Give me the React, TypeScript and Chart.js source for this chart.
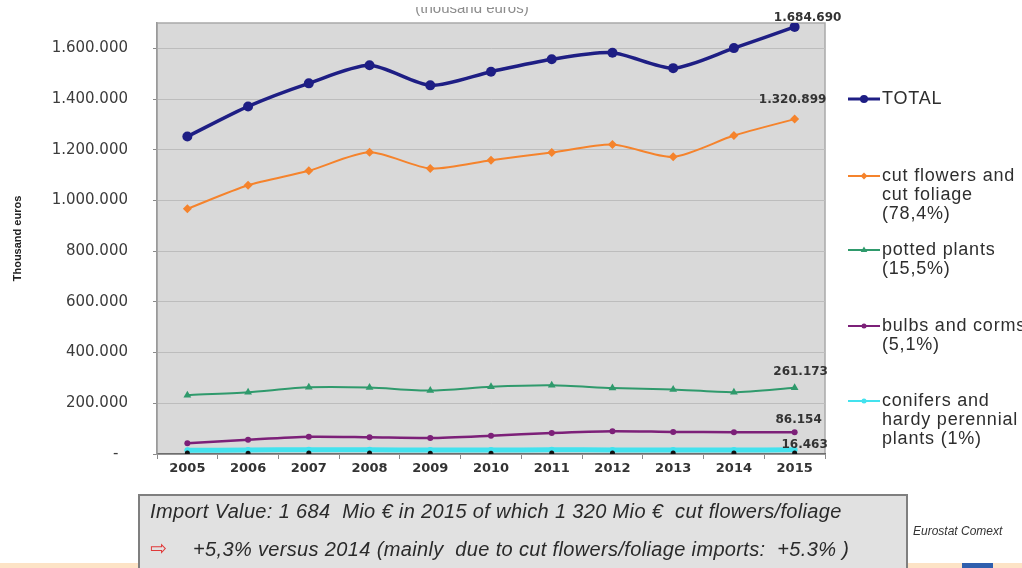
import React, { useEffect, useRef } from "react";
import { Chart, registerables } from "chart.js";

Chart.register(...registerables);

// Import values of live plants and floriculture products, thousand euros
const years = ["2005", "2006", "2007", "2008", "2009", "2010", "2011", "2012", "2013", "2014", "2015"];
const totalImports = [1252000, 1371000, 1462000, 1533000, 1454000, 1508000, 1557000, 1583000, 1522000, 1601000, 1684690];
const cutFlowers = [967000, 1060000, 1117000, 1190000, 1126000, 1159000, 1189000, 1221000, 1172000, 1256000, 1320899];
const pottedPlants = [232000, 244000, 263000, 262000, 250000, 265000, 271000, 260000, 254000, 244000, 261173];
const bulbsCorms = [42000, 56000, 68000, 66000, 63000, 72000, 83000, 90000, 87000, 86000, 86154];
const otherProducts = [3500, 3200, 3800, 3600, 3400, 3300, 3500, 3700, 3600, 3900, 4100];
const conifers = [15000, 15500, 17000, 16500, 15800, 16000, 16300, 16200, 16000, 16100, 16463];

const yMax = 1700000;
const yTickValues = [0, 200000, 400000, 600000, 800000, 1000000, 1200000, 1400000, 1600000];

const legendTotal = ["TOTAL"];
const legendCut = ["cut flowers and", "cut foliage", "(78,4%)"];
const legendPotted = ["potted plants", "(15,5%)"];
const legendBulbs = ["bulbs and corms", "(5,1%)"];
const legendConifers = ["conifers and", "hardy perennial", "plants (1%)"];

const noteLine1 = "Import Value: 1 684  Mio € in 2015 of which 1 320 Mio €  cut flowers/foliage";
const noteLine2 = "+5,3% versus 2014 (mainly  due to cut flowers/foliage imports:  +5.3% )";
const sourceText = "Eurostat Comext";
const unitText = "(thousand euros)";

const NAVY = "#1e1e84";
const ORANGE = "#f5832c";
const GREEN = "#2f9a6c";
const PURPLE = "#7c2078";
const CYAN = "#43e2ee";
const BLACK = "#111111";

const fmt = (n: number) => String(Math.round(n)).replace(/\B(?=(\d{3})+(?!\d))/g, ".");

function drawMarker(ctx: CanvasRenderingContext2D, style: string, x: number, y: number, r: number, color: string) {
  ctx.save();
  ctx.fillStyle = color;
  ctx.beginPath();
  if (style === "circle") {
    ctx.arc(x, y, r, 0, Math.PI * 2);
  } else if (style === "rectRot") {
    ctx.moveTo(x, y - r);
    ctx.lineTo(x + r, y);
    ctx.lineTo(x, y + r);
    ctx.lineTo(x - r, y);
    ctx.closePath();
  } else if (style === "triangle") {
    ctx.moveTo(x, y - r);
    ctx.lineTo(x + r * 0.95, y + r * 0.6);
    ctx.lineTo(x - r * 0.95, y + r * 0.6);
    ctx.closePath();
  }
  ctx.fill();
  ctx.restore();
}

const decorPlugin = {
  id: "decor",
  beforeDraw(chart: any) {
    const { ctx, chartArea: a } = chart;
    ctx.save();
    ctx.fillStyle = "#d9d9d9";
    ctx.fillRect(a.left, a.top, a.right - a.left, a.bottom - a.top);
    ctx.strokeStyle = "#a9a9a9";
    ctx.lineWidth = 1.5;
    ctx.strokeRect(a.left, a.top, a.right - a.left, a.bottom - a.top);
    ctx.restore();
  },
  afterDatasetsDraw(chart: any) {
    const { ctx } = chart;
    const last = years.length - 1;
    // value labels for the final year: [dataset index, dx, dy]
    const labelled: [number, number, number][] = [
      [0, 13, -9],
      [1, -2, -19],
      [2, 6, -16],
      [3, 4, -12.5],
      [5, 10, -5],
    ];
    ctx.save();
    ctx.font = "bold 12px 'DejaVu Sans'";
    ctx.fillStyle = "#333333";
    ctx.textAlign = "center";
    ctx.textBaseline = "middle";
    labelled.forEach(([di, dx, dy]) => {
      const pt = chart.getDatasetMeta(di).data[last];
      const v = chart.data.datasets[di].data[last] as number;
      ctx.fillText(fmt(v), pt.x + dx, pt.y + dy);
    });
    ctx.restore();
  },
  afterDraw(chart: any) {
    const { ctx } = chart;
    ctx.save();

    // unit caption, partly cut off at the top edge
    ctx.save();
    ctx.beginPath();
    ctx.rect(380, 7, 200, 12);
    ctx.clip();
    ctx.font = "15px 'Liberation Sans'";
    ctx.fillStyle = "#8c8c8c";
    ctx.textAlign = "center";
    ctx.textBaseline = "alphabetic";
    ctx.fillText(unitText, 472, 13);
    ctx.restore();

    // legend
    const rows = [
      { y: 99, lines: legendTotal, color: NAVY, style: "circle", r: 4, w: 3 },
      { y: 176, lines: legendCut, color: ORANGE, style: "rectRot", r: 3.5, w: 2 },
      { y: 250, lines: legendPotted, color: GREEN, style: "triangle", r: 3.5, w: 2 },
      { y: 326, lines: legendBulbs, color: PURPLE, style: "circle", r: 2.5, w: 2 },
      { y: 401, lines: legendConifers, color: CYAN, style: "circle", r: 2.5, w: 2 },
    ];
    rows.forEach((row) => {
      ctx.strokeStyle = row.color;
      ctx.lineWidth = row.w;
      ctx.beginPath();
      ctx.moveTo(848, row.y);
      ctx.lineTo(880, row.y);
      ctx.stroke();
      drawMarker(ctx, row.style, 864, row.y, row.r, row.color);
      ctx.save();
      ctx.font = "18px 'Liberation Sans'";
      (ctx as any).letterSpacing = "0.8px";
      ctx.fillStyle = "#2e2e2e";
      ctx.textAlign = "left";
      ctx.textBaseline = "middle";
      row.lines.forEach((t, i) => ctx.fillText(t, 882, row.y + i * 19));
      ctx.restore();
    });

    // bottom strip
    ctx.fillStyle = "#fde3c6";
    ctx.fillRect(0, 563, 1022, 5);
    ctx.fillStyle = "#2f5fae";
    ctx.fillRect(962, 563, 31, 5);

    // note box
    ctx.fillStyle = "#e1e1e1";
    ctx.fillRect(139, 495, 768, 80);
    ctx.strokeStyle = "#7f7f7f";
    ctx.lineWidth = 2;
    ctx.strokeRect(139, 495, 768, 80);

    ctx.save();
    ctx.font = "italic 20px 'Liberation Sans'";
    (ctx as any).letterSpacing = "0.35px";
    ctx.fillStyle = "#2a2a2a";
    ctx.textAlign = "left";
    ctx.textBaseline = "middle";
    ctx.fillText(noteLine1, 150, 512);
    ctx.fillText(noteLine2, 193, 550);
    ctx.restore();

    ctx.font = "20px 'DejaVu Sans'";
    ctx.fillStyle = "#e03a3a";
    ctx.textAlign = "left";
    ctx.textBaseline = "middle";
    ctx.fillText("⇨", 150, 550);

    ctx.font = "italic 12px 'Liberation Sans'";
    ctx.fillStyle = "#333333";
    ctx.fillText(sourceText, 913, 532);

    ctx.restore();
  },
};

export default function App() {
  const canvasRef = useRef<HTMLCanvasElement | null>(null);

  useEffect(() => {
    if (!canvasRef.current) return;
    const mk = (label: string, data: number[], color: string, width: number, style: string, radius: number, extra: any = {}) => ({
      label,
      data,
      borderColor: color,
      backgroundColor: color,
      borderWidth: width,
      pointStyle: style,
      pointRadius: radius,
      pointBorderWidth: 0,
      pointBackgroundColor: color,
      tension: 0.25,
      ...extra,
    });

    const chart = new Chart(canvasRef.current, {
      type: "line",
      data: {
        labels: years,
        datasets: [
          mk("TOTAL", totalImports, NAVY, 3.5, "circle", 5),
          mk("cut flowers and cut foliage", cutFlowers, ORANGE, 2, "rectRot", 4.5),
          mk("potted plants", pottedPlants, GREEN, 2, "triangle", 4.5),
          mk("bulbs and corms", bulbsCorms, PURPLE, 2.5, "circle", 3),
          mk("other", otherProducts, BLACK, 0, "circle", 2.5, { showLine: false }),
          mk("conifers and hardy perennial plants", conifers, CYAN, 5, "circle", 3),
        ],
      },
      options: {
        responsive: false,
        animation: false,
        layout: { padding: { left: 0, top: 23, right: 197, bottom: 74 } },
        plugins: {
          legend: { display: false },
          tooltip: { enabled: false },
        },
        scales: {
          x: {
            type: "category",
            offset: true,
            grid: {
              display: true,
              drawOnChartArea: false,
              offset: true,
              tickLength: 5,
              color: "#8a8a8a",
            },
            border: { display: true, color: "#6e6e6e", width: 1.5 },
            ticks: {
              font: { family: "DejaVu Sans", weight: "bold", size: 13 },
              color: "#333333",
              padding: 2,
              maxRotation: 0,
              autoSkip: false,
            },
            afterFit: (s: any) => {
              s.height = 40;
            },
          },
          y: {
            min: 0,
            max: yMax,
            ticks: {
              font: { family: "DejaVu Sans", size: 15 },
              color: "#3c3c3c",
              padding: 25,
              autoSkip: false,
              callback: (v: any) => (Number(v) === 0 ? "-  " : fmt(Number(v))),
            },
            afterBuildTicks: (s: any) => {
              s.ticks = yTickValues.map((value) => ({ value }));
            },
            grid: {
              color: "#bdbdbd",
              tickColor: "#8a8a8a",
              tickLength: 4,
              lineWidth: 1,
            },
            border: { display: true, color: "#9a9a9a", width: 1.5 },
            title: {
              display: true,
              text: "Thousand euros",
              color: "#222222",
              font: { family: "Liberation Sans", weight: "bold", size: 11 },
              padding: { top: 11.4, bottom: 0 },
            },
            afterFit: (s: any) => {
              s.width = 157;
              s.paddingTop = 0;
              s.paddingBottom = 0;
            },
          },
        },
      } as any,
      plugins: [decorPlugin as any],
    });
    return () => chart.destroy();
  }, []);

  return (
    <div
      style={{
        position: "fixed",
        left: 0,
        top: 0,
        width: 1022,
        height: 568,
        overflow: "hidden",
        background: "#ffffff",
      }}
    >
      <canvas ref={canvasRef} width={1022} height={568} style={{ display: "block" }} />
    </div>
  );
}
